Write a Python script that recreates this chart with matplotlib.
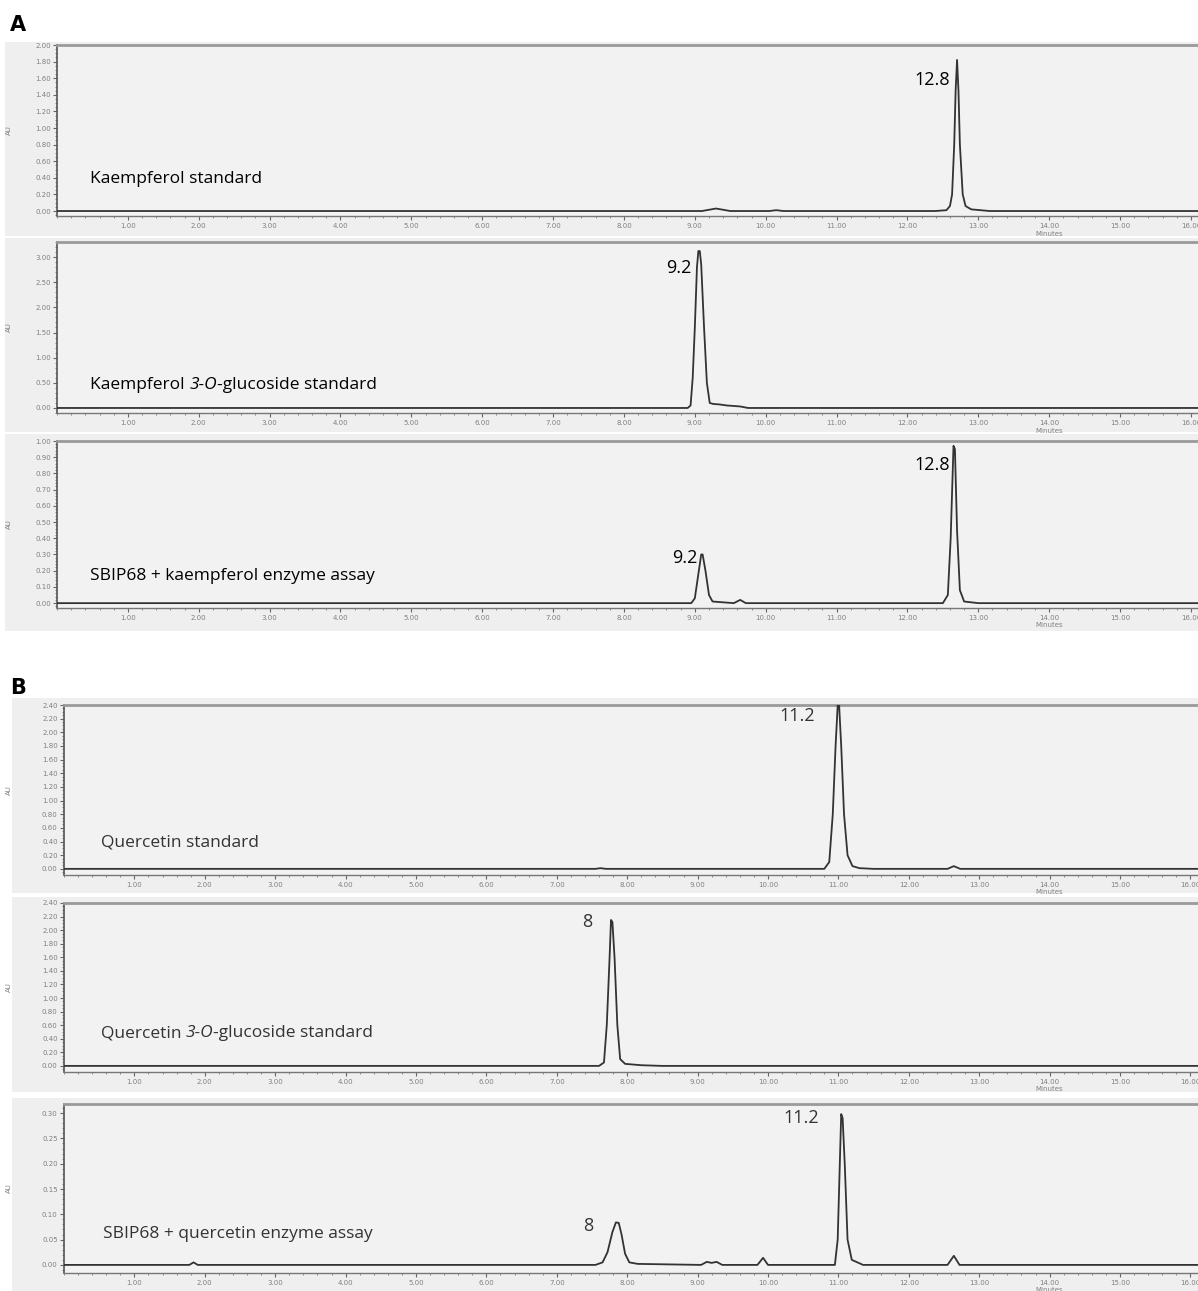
import numpy as np
import matplotlib
matplotlib.use("Agg")
import matplotlib.pyplot as plt
from matplotlib.patches import Rectangle
from matplotlib.ticker import MultipleLocator, FormatStrFormatter
from matplotlib.offsetbox import TextArea, HPacker, AnnotationBbox

W, H = 1198, 1291

# traces (time in minutes, absorbance in AU)
a1_t = [0, 9.10, 9.30, 9.50, 10.05, 10.15, 10.25, 12.39, 12.55, 12.60, 12.63, 12.66, 12.68, 12.70,
        12.72, 12.74, 12.78, 12.82, 12.90, 13.16, 16.3]
a1_au = [0, 0, 0.03, 0, 0, 0.01, 0, 0, 0.01, 0.06, 0.2, 0.8, 1.45, 1.82,
         1.45, 0.8, 0.2, 0.06, 0.02, 0, 0]

a2_t = [0, 8.90, 8.94, 8.97, 9.00, 9.03, 9.05, 9.07, 9.09, 9.13, 9.17, 9.21, 9.26, 9.35, 9.45, 9.55,
        9.64, 9.75, 16.3]
a2_au = [0, 0, 0.05, 0.6, 1.6, 2.8, 3.12, 3.12, 2.85, 1.6, 0.5, 0.1, 0.08, 0.07, 0.05, 0.04,
         0.03, 0, 0]

a3_t = [0, 8.95, 9.00, 9.05, 9.09, 9.11, 9.15, 9.20, 9.25, 9.55, 9.64, 9.72, 12.50, 12.57, 12.61,
        12.65, 12.67, 12.70, 12.74, 12.80, 13.00, 16.3]
a3_au = [0, 0, 0.03, 0.18, 0.30, 0.30, 0.2, 0.05, 0.01, 0, 0.02, 0, 0, 0.05, 0.4,
         0.97, 0.95, 0.45, 0.08, 0.01, 0, 0]

b1_t = [0, 7.55, 7.62, 7.70, 10.80, 10.87, 10.92, 10.96, 10.99, 11.01, 11.04, 11.08, 11.13, 11.20,
        11.30, 11.50, 12.55, 12.64, 12.73, 16.3]
b1_au = [0, 0, 0.01, 0, 0, 0.1, 0.8, 1.8, 2.40, 2.40, 1.8, 0.8, 0.2, 0.04,
         0.01, 0, 0, 0.04, 0, 0]

b2_t = [0, 7.60, 7.67, 7.71, 7.75, 7.77, 7.79, 7.82, 7.86, 7.90, 7.97, 8.20, 8.50, 16.3]
b2_au = [0, 0, 0.05, 0.6, 1.6, 2.15, 2.12, 1.6, 0.6, 0.1, 0.03, 0.01, 0, 0]

b3_t = [0, 1.78, 1.84, 1.90, 7.55, 7.65, 7.72, 7.79, 7.84, 7.88, 7.92, 7.97, 8.03, 8.15, 9.05, 9.13,
        9.20, 9.27, 9.35, 9.85, 9.93, 10.00, 10.95, 10.99, 11.02, 11.04, 11.06, 11.09, 11.13, 11.19,
        11.35, 12.55, 12.64, 12.72, 16.3]
b3_au = [0, 0, 0.005, 0, 0, 0.005, 0.025, 0.065, 0.084, 0.083, 0.06, 0.022, 0.005, 0.002, 0, 0.006,
         0.004, 0.006, 0, 0, 0.014, 0, 0, 0.05, 0.2, 0.298, 0.29, 0.2, 0.05, 0.01,
         0, 0, 0.018, 0, 0]

# sample names as (text, italic) pieces
a1_name = [("Kaempferol standard", False)]
a2_name = [("Kaempferol ", False), ("3-O", True), ("-glucoside standard", False)]
a3_name = [("SBIP68 + kaempferol enzyme assay", False)]
b1_name = [("Quercetin standard", False)]
b2_name = [("Quercetin ", False), ("3-O", True), ("-glucoside standard", False)]
b3_name = [("SBIP68 + quercetin enzyme assay", False)]

# (time label, x, y) of the retention time labels
a1_marks = [("12.8", 12.6, 1.58)]
a2_marks = [("9.2", 8.96, 2.78)]
a3_marks = [("9.2", 9.04, 0.28), ("12.8", 12.6, 0.85)]
b1_marks = [("11.2", 10.67, 2.24)]
b2_marks = [("8", 7.51, 2.12)]
b3_marks = [("8", 7.52, 0.077), ("11.2", 10.73, 0.29)]


def px(l, t, r, b):
    return [l / W, 1 - b / H, (r - l) / W, (b - t) / H]


fig = plt.figure(figsize=(W / 100, H / 100), dpi=100, facecolor="white")

# grey panel boxes
for (l, t, r, b) in [(5, 42, 1198, 236), (5, 238, 1198, 432), (5, 434, 1198, 631),
                     (12, 698, 1198, 893), (12, 897, 1198, 1092), (12, 1098, 1198, 1291)]:
    fig.patches.append(Rectangle((l / W, 1 - b / H), (r - l) / W, (b - t) / H,
                                 transform=fig.transFigure, facecolor="#efefef",
                                 edgecolor="none", zorder=-5))

panels = [
    # t, au, name, marks, box(l,t,r,b), ylim, ystep, yminor, text y, text color, text x
    (a1_t, a1_au, a1_name, a1_marks, (57, 45, 1198, 216), (-0.06, 2.0), 0.2, 0.05, 0.39, "black", 0.47),
    (a2_t, a2_au, a2_name, a2_marks, (57, 242, 1198, 413), (-0.1, 3.30), 0.5, 0.1, 0.46, "black", 0.47),
    (a3_t, a3_au, a3_name, a3_marks, (57, 441, 1198, 608), (-0.03, 1.0), 0.1, 0.02, 0.17, "black", 0.47),
    (b1_t, b1_au, b1_name, b1_marks, (64, 705, 1198, 875), (-0.09, 2.4), 0.2, 0.05, 0.38, "#333333", 0.52),
    (b2_t, b2_au, b2_name, b2_marks, (64, 903, 1198, 1072), (-0.09, 2.4), 0.2, 0.05, 0.48, "#333333", 0.52),
    (b3_t, b3_au, b3_name, b3_marks, (64, 1104, 1198, 1273), (-0.016, 0.318), 0.05, 0.01, 0.061, "#333333", 0.56),
]

for t, au, name, marks, box, ylim, ystep, yminor, ty, tcol, tx in panels:
    l, top, r, b = box
    ax = fig.add_axes(px(l, top, r, b))
    ax.set_zorder(2)
    ax.set_facecolor("#f2f2f2")
    ppm = 70.87 if l == 57 else 70.4
    ax.plot(t, au, color="#333333", lw=1.3, zorder=3)

    ax.spines["right"].set_visible(False)
    ax.spines["top"].set_color("#9a9a9a")
    ax.spines["top"].set_linewidth(2)
    ax.spines["left"].set_color("#555555")
    ax.spines["left"].set_linewidth(1.2)
    ax.spines["bottom"].set_color("#777777")
    ax.spines["bottom"].set_linewidth(1.0)

    ax.set_xticks(np.arange(1, 17))
    ax.xaxis.set_minor_locator(MultipleLocator(0.2))
    ax.xaxis.set_major_formatter(FormatStrFormatter("%.2f"))
    ax.set_yticks(np.arange(0, ylim[1] + 1e-9, ystep))
    ax.yaxis.set_minor_locator(MultipleLocator(yminor))
    ax.yaxis.set_major_formatter(FormatStrFormatter("%.2f"))
    ax.set_ylim(*ylim)
    ax.set_xlim(0, (r - l) / ppm)

    ax.tick_params(axis="both", which="major", labelsize=5, labelcolor="#808080",
                   color="#666666", length=3, width=0.8, pad=1.5)
    ax.tick_params(axis="both", which="minor", color="#777777", length=1.5, width=0.6)
    ax.tick_params(axis="x", which="major", pad=2)

    ax.set_xlabel("Minutes", fontsize=5, color="#808080")
    ax.xaxis.set_label_coords(14.0 / ((r - l) / ppm), -0.085)
    ax.set_ylabel("AU", fontsize=5, color="#808080")
    ax.yaxis.set_label_coords(-(l - 12) / (r - l), 0.5)

    parts = [TextArea(s, textprops=dict(fontsize=12.5, family="Open Sans", color=tcol,
                                        style="italic" if it else "normal"))
             for s, it in name]
    pack = HPacker(children=parts, pad=0, sep=0, align="baseline")
    ab = AnnotationBbox(pack, (tx, ty), xycoords="data", box_alignment=(0, 0.5),
                        frameon=False, pad=0, zorder=4)
    ax.add_artist(ab)
    for lab, mx, my in marks:
        ax.text(mx, my, lab, fontsize=13, family="Open Sans", color=tcol, va="center", ha="right")

fig.text(10 / W, 1 - 25 / H, "A", fontsize=15, fontweight="bold", va="center", ha="left")
fig.text(10 / W, 1 - 688 / H, "B", fontsize=15, fontweight="bold", va="center", ha="left")

fig.savefig("out.png", dpi=100, facecolor="white")
